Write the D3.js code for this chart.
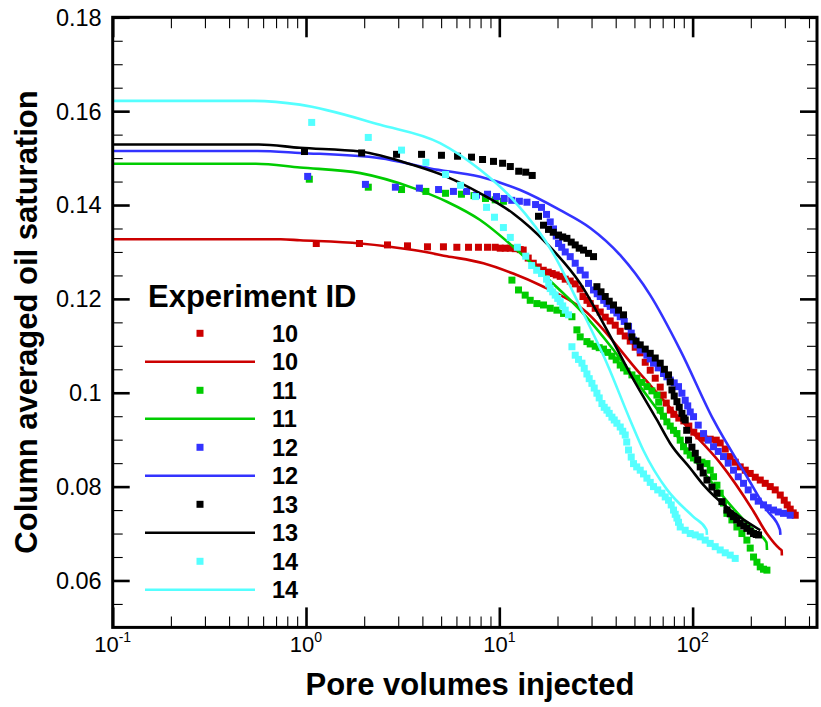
<!DOCTYPE html>
<html>
<head>
<meta charset="utf-8">
<script src="https://cdn.jsdelivr.net/npm/d3@7"></script>
<style>
  body { margin: 0; background: #fff; }
  svg { display: block; font-family: "Liberation Sans", Arial, Helvetica, sans-serif; }
</style>
</head>
<body>
<svg id="chart" width="821" height="707"></svg>
<script>
// ---- data: [pore volumes injected, column averaged oil saturation] ----
const experimentIds = ["10", "11", "12", "13", "14"];
const seriesColors = ["#cc0000", "#00cc00", "#3333ff", "#000000", "#55ffff"];

const measured10 = [
  [1.13,.1318],[1.89,.1318],[2.64,.1315],[3.35,.1313],[4.25,.1311],[5.14,.1311],[6.03,.1310],[6.93,.1310],[7.80,.1310],[8.69,.1310],
  [9.52,.1310],[10.11,.1308],[10.73,.1308],[11.39,.1308],[12.09,.1307],[12.83,.1305],[13.29,.1304],[14.11,.1287],[14.98,.1276],
  [15.90,.1268],[16.87,.1261],[17.91,.1257],[18.78,.1254],[19.70,.1251],[20.66,.1248],[21.93,.1242],[23.27,.1238],[24.70,.1232],
  [26.21,.1221],[27.10,.1205],[28.42,.1197],[29.53,.1190],[31.34,.1180],[33.27,.1172],[35.31,.1161],[37.47,.1153],[39.78,.1144],
  [42.22,.1131],[44.81,.1121],[47.56,.1110],[50.48,.1097],[53.58,.1085],[56.87,.1065],[60.36,.1048],[64.06,.1031],[67.99,.1012],
  [70.46,.0995],[73.03,.0978],[76.6,.0963],[79.93,.0954],[84.84,.0946],[90.06,.0940],[95.57,.0929],[101.4,.0916],[107.7,.0908],
  [114.3,.0903],[123.3,.0901],[132.5,.0899],[138.9,.0893],[147.5,.0880],[156.5,.0864],[166.1,.0852],[176.3,.0842],[187.2,.0835],
  [198.6,.0828],[210.9,.0820],[223.8,.0814],[237.5,.0807],[252.1,.0800],[267.5,.0793],[284.0,.0782],[297.8,.0771],[308.6,.0761],
  [319.8,.0752],[331.4,.0744],[339.5,.0739]
];
const measured11 = [
  [1.04,.1455],[2.10,.1438],[3.12,.1433],[4.17,.1429],[5.27,.1425],[6.37,.1423],[7.4,.1420],[8.48,.1414],[9.52,.1411],[10.5,.1408],
  [11.62,.1240],[12.57,.1219],[13.61,.1208],[14.45,.1197],[15.65,.1190],[16.93,.1187],[18.34,.1180],[19.86,.1176],[21.49,.1169],
  [23.75,.1162],[25.20,.1134],[26.21,.1119],[28.39,.1109],[29.53,.1104],[31.34,.1099],[32.87,.1096],[34.60,.1093],[36.37,.1086],
  [38.24,.1078],[40.25,.1070],[42.22,.1059],[43.91,.1053],[45.73,.1046],[48.53,.1038],[51.50,.1031],[54.67,.1022],[58.02,.1013],
  [61.58,.1004],[65.37,.0995],[66.77,.0980],[67.99,.0963],[70.70,.0950],[73.62,.0938],[76.6,.0929],[79.65,.0920],[82.96,.0913],
  [86.28,.0899],[89.74,.0885],[93.44,.0876],[97.2,.0867],[101.1,.0861],[105.3,.0857],[111.7,.0852],[118.6,.0849],[123.3,.0835],
  [128.3,.0821],[133.6,.0803],[138.9,.0786],[144.5,.0765],[150.5,.0743],[159.7,.0729],[169.5,.0714],[179.9,.0700],[190.9,.0686],
  [198.6,.0669],[206.6,.0650],[215.1,.0639],[223.8,.0629],[232.7,.0624],[242.3,.0622]
];
const measured12 = [
  [1.02,.1461],[2.03,.1444],[2.90,.1438],[3.86,.1436],[4.85,.1433],[5.79,.1429],[6.77,.1429],[7.62,.1421],[8.69,.1423],[9.67,.1418],
  [10.6,.1414],[11.6,.1410],[12.7,.1408],[13.9,.1406],[15.4,.1401],[16.53,.1395],[17.55,.1380],[18.34,.1364],[19.07,.1349],
  [19.70,.1334],[20.25,.1318],[21.03,.1310],[21.93,.1300],[23.27,.1290],[24.70,.1276],[26.21,.1261],[27.82,.1251],[28.94,.1233],
  [30.72,.1219],[32.10,.1211],[33.27,.1205],[34.68,.1197],[36.04,.1190],[37.47,.1184],[38.97,.1176],[40.57,.1170],[42.22,.1162],
  [44.29,.1152],[46.61,.1141],[48.13,.1127],[49.47,.1112],[51.50,.1102],[53.58,.1091],[58.02,.1080],[60.36,.1072],[62.77,.1063],
  [66.37,.1053],[70.70,.1041],[73.62,.1034],[76.6,.1027],[80.32,.1021],[84.53,.1013],[88.03,.0999],[91.56,.0984],[94.34,.0972],
  [97.2,.0959],[101.1,.0949],[106.9,.0931],[113.9,.0913],[120.4,.0899],[128.3,.0885],[135.7,.0875],[144.5,.0864],[152.8,.0850],
  [162.8,.0835],[172.2,.0821],[183.4,.0807],[193.9,.0793],[206.6,.0778],[218.5,.0769],[232.7,.0761],[246.1,.0755],[262.1,.0750],
  [277.3,.0746],[295.3,.0743],[319.8,.0739]
];
const measured13 = [
  [0.982,.1514],[1.94,.1511],[2.94,.1508],[3.96,.1508],[5.02,.1506],[6.08,.1504],[7.18,.1502],[8.19,.1497],[9.33,.1493],[10.4,.1489],
  [11.4,.1482],[12.6,.1472],[13.7,.1470],[14.8,.1463],
  [15.95,.1376],[16.93,.1357],[17.97,.1348],[19.01,.1342],[20.25,.1336],[21.28,.1332],[22.37,.1329],[23.55,.1321],[24.70,.1315],
  [25.90,.1308],[27.27,.1304],[28.94,.1297],[30.72,.1290],
  [31.98,.1226],[33.58,.1215],[35.31,.1205],[37.03,.1195],[38.97,.1187],[41.37,.1176],[43.91,.1166],[46.17,.1142],[48.53,.1119],
  [50.96,.1110],[53.58,.1102],[56.87,.1093],[60.36,.1084],[64.06,.1074],[67.99,.1063],[71.47,.1050],[75.05,.1038],[76.6,.1023],
  [78.16,.1006],[80.32,.0993],[82.96,.0981],[85.26,.0969],[88.03,.0956],[89.95,.0946],[91.56,.0942],[93.22,.0920],[95.25,.0899],
  [99.17,.0884],[103.2,.0871],[106.3,.0857],[109.5,.0842],[113.4,.0829],[118.6,.0814],[125.9,.0799],[133.6,.0786],[141.8,.0768],
  [150.5,.0750],[156.5,.0742],[162.8,.0736],[169.1,.0729],[176.3,.0722],[183.8,.0716],[190.9,.0711],[198.6,.0705],[206.6,.0700],
  [213.3,.0698],[219.3,.0697]
];
const measured14 = [
  [1.07,.1576],[2.10,.1544],[3.12,.1517],[4.17,.1491],[5.27,.1465],[6.30,.1442],[7.53,.1418],[8.59,.1395],[9.44,.1374],[10.5,.1352],
  [11.4,.1331],[12.4,.1310],[13.7,.1291],[14.7,.1271],[15.61,.1261],[16.53,.1254],[17.55,.1242],[18.01,.1232],[18.34,.1222],
  [18.89,.1215],[19.46,.1208],[20.05,.1201],[20.66,.1194],[21.28,.1185],[21.93,.1176],[22.80,.1166],
  [23.75,.1098],[24.70,.1080],[25.69,.1071],[26.76,.1063],[27.50,.1052],[28.39,.1040],[29.18,.1030],[30.13,.1020],[30.97,.1010],
  [31.98,.0999],[32.87,.0989],[33.95,.0977],[34.89,.0969],[36.04,.0963],[37.03,.0956],[38.24,.0948],[39.31,.0942],[40.57,.0935],
  [42.22,.0927],[43.50,.0918],[44.81,.0910],[45.62,.0895],[46.61,.0878],[48.13,.0863],[49.47,.0849],[51.38,.0842],[53.58,.0835],
  [55.72,.0827],[58.02,.0818],[60.36,.0809],[62.77,.0800],[66.0,.0793],[69.37,.0786],[72.17,.0778],[75.05,.0771],[77.5,.0761],
  [79.65,.0750],[81.28,.0741],[82.96,.0733],[84.53,.0724],[86.28,.0714],[91.56,.0707],[97.2,.0700],[103.2,.0697],[109.5,.0693],
  [116.2,.0686],[123.3,.0679],[130.9,.0672],[138.9,.0665],[147.5,.0659],[156.5,.0654],[166.1,.0647]
];

const model10 = [
  [0.1,.1327],[0.74,.1327],[0.93,.1325],[1.91,.1318],[3.6,.1304],[5.36,.1291],[8.27,.1276],[11.8,.1254],[16.3,.1229],[27.3,.1177],
  [53.6,.1040],[93.4,.0928],[139,.0850],[206,.0748],[242,.0700],[283,.0667],[289,.0664],[289.5,.0653]
];
const model11 = [
  [0.1,.1488],[0.55,.1488],[0.93,.1480],[1.91,.1468],[3.6,.1436],[5.36,.1407],[7.96,.1368],[11.8,.1311],[17.6,.1245],[26.2,.1176],
  [39.0,.1091],[53.6,.1013],[68.0,.0956],[86.3,.0899],[118.6,.0822],[156.5,.0761],[207,.0707],[241,.0681],[242.5,.0665]
];
const model12 = [
  [0.1,.1515],[0.56,.1515],[0.93,.1511],[2.42,.1500],[4.39,.1478],[7.96,.1460],[12.83,.1432],[20.65,.1389],[29.53,.1351],[42.22,.1293],
  [60.36,.1208],[86.28,.1091],[128.3,.0942],[191.7,.0820],[242,.0750],[283,.0708],[284.5,.0697]
];
const model13 = [
  [0.1,.1529],[0.57,.1529],[0.93,.1522],[1.91,.1514],[3.59,.1485],[5.36,.1460],[7.96,.1425],[11.8,.1382],[17.6,.1318],[26.2,.1233],
  [36.0,.1134],[47.5,.1041],[65.4,.0942],[76.6,.0892],[97.2,.0839],[114,.0803],[156.5,.0750],[224,.0707]
];
const model14 = [
  [0.1,.1622],[0.53,.1622],[0.93,.1614],[2.42,.1571],[4.94,.1532],[7.96,.1475],[11.8,.1411],[19.0,.1297],[26.2,.1183],[36.0,.1063],
  [47.5,.0942],[55.5,.0878],[73.9,.0793],[100.7,.0736],[118,.0708],[118.6,.0697]
];

const measuredSets = [measured10, measured11, measured12, measured13, measured14];
const modelSets = [model10, model11, model12, model13, model14];

// axis ticks
const xDomain = [0.1, 440];
const yDomain = [0.05, 0.18];
const xMajorTicks = [0.1, 1, 10, 100];
const xTickExponents = ["-1", "0", "1", "2"];
const yMajorTicks = [0.06, 0.08, 0.10, 0.12, 0.14, 0.16, 0.18];
const yTickLabels = ["0.06", "0.08", "0.1", "0.12", "0.14", "0.16", "0.18"];

const xTitle = "Pore volumes injected";
const yTitle = "Column averaged oil saturation";
const legendTitle = "Experiment ID";

// ---- layout ----
const plotLeft = 112.7, plotRight = 817, plotTop = 17.3, plotBottom = 627.4;

const svg = d3.select("#chart");
const x = d3.scaleLog().domain(xDomain).range([plotLeft, plotRight]);
const y = d3.scaleLinear().domain(yDomain).range([plotBottom, plotTop]);

// minor tick positions
const xMinorTicks = [];
xMajorTicks.forEach(d => { for (let k = 2; k <= 9; k++) { const v = d * k; if (v <= xDomain[1]) xMinorTicks.push(v); } });
const yMinorTicks = d3.range(11, 36).filter(i => i % 4 !== 0).map(i => i * 0.005);

// ---- series: symbols then curve for each experiment ----
const plot = svg.append("g");
const lineGen = d3.line().x(d => x(d[0])).y(d => y(d[1])).curve(d3.curveMonotoneX);
const markerSize = 7;

measuredSets.forEach((set, i) => {
  plot.append("g").selectAll("rect").data(set).join("rect")
    .attr("x", d => x(d[0]) - markerSize / 2)
    .attr("y", d => y(d[1]) - markerSize / 2)
    .attr("width", markerSize).attr("height", markerSize)
    .attr("fill", seriesColors[i]);
  plot.append("path").datum(modelSets[i])
    .attr("d", lineGen)
    .attr("fill", "none")
    .attr("stroke", seriesColors[i])
    .attr("stroke-width", 2.6)
    .attr("stroke-linejoin", "round");
});

// ---- axes (ticks on all four sides, pointing inward) ----
function tickGroup(axisFn, scale, values, size, width, transform) {
  const g = svg.append("g").attr("transform", transform)
    .call(axisFn(scale).tickValues(values).tickSize(-size).tickFormat(""));
  g.select(".domain").remove();
  g.selectAll(".tick line").attr("stroke", "#000").attr("stroke-width", width);
  return g;
}
tickGroup(d3.axisBottom, x, xMinorTicks, 11, 1.1, `translate(0,${plotBottom})`);
tickGroup(d3.axisBottom, x, xMajorTicks, 20, 2.6, `translate(0,${plotBottom})`);
tickGroup(d3.axisTop, x, xMinorTicks, 11, 1.1, `translate(0,${plotTop})`);
tickGroup(d3.axisTop, x, xMajorTicks, 20, 2.6, `translate(0,${plotTop})`);
tickGroup(d3.axisLeft, y, yMinorTicks, 10, 1.1, `translate(${plotLeft},0)`);
tickGroup(d3.axisLeft, y, yMajorTicks, 17, 2.6, `translate(${plotLeft},0)`);
tickGroup(d3.axisRight, y, yMinorTicks, 10, 1.1, `translate(${plotRight},0)`);
tickGroup(d3.axisRight, y, yMajorTicks, 17, 2.6, `translate(${plotRight},0)`);

svg.append("rect")
  .attr("x", plotLeft).attr("y", plotTop)
  .attr("width", plotRight - plotLeft).attr("height", plotBottom - plotTop)
  .attr("fill", "none").attr("stroke", "#000").attr("stroke-width", 3);

// tick labels
svg.append("g").selectAll("text").data(yMajorTicks).join("text")
  .attr("x", plotLeft - 11).attr("y", d => y(d)).attr("dy", "0.36em")
  .attr("text-anchor", "end").attr("font-size", 23.5)
  .text((d, i) => yTickLabels[i]);

const xLabels = svg.append("g").selectAll("text").data(xMajorTicks).join("text")
  .attr("x", d => x(d)).attr("y", 652)
  .attr("text-anchor", "middle").attr("font-size", 22);
xLabels.append("tspan").text("10");
xLabels.append("tspan").attr("dy", -10).attr("font-size", 14).text((d, i) => xTickExponents[i]);

// axis titles
svg.append("text")
  .attr("x", 470).attr("y", 695)
  .attr("text-anchor", "middle").attr("font-size", 31).attr("font-weight", "bold")
  .text(xTitle);
svg.append("text")
  .attr("transform", "translate(37,322) rotate(-90)")
  .attr("text-anchor", "middle").attr("font-size", 31).attr("font-weight", "bold")
  .text(yTitle);

// ---- legend ----
const legend = svg.append("g");
legend.append("text")
  .attr("x", 148).attr("y", 307)
  .attr("font-size", 31).attr("font-weight", "bold")
  .text(legendTitle);
const legendRows = [];
experimentIds.forEach((id, i) => {
  legendRows.push({ id, color: seriesColors[i], kind: "symbol" });
  legendRows.push({ id, color: seriesColors[i], kind: "line" });
});
legendRows.forEach((r, j) => {
  const cy = 333.3 + j * 28.5;
  if (r.kind === "symbol") {
    legend.append("rect")
      .attr("x", 200 - markerSize / 2).attr("y", cy - markerSize / 2)
      .attr("width", markerSize).attr("height", markerSize).attr("fill", r.color);
  } else {
    legend.append("line")
      .attr("x1", 145).attr("x2", 255).attr("y1", cy).attr("y2", cy)
      .attr("stroke", r.color).attr("stroke-width", 2.6);
  }
  legend.append("text")
    .attr("x", 272).attr("y", cy).attr("dy", "0.36em")
    .attr("font-size", 23.5).attr("font-weight", "bold")
    .text(r.id);
});
</script>
</body>
</html>
